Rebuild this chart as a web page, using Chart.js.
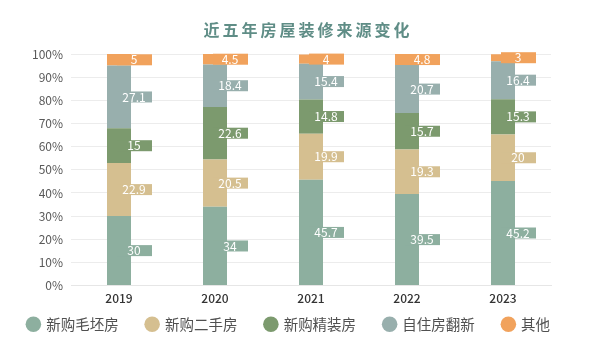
<!DOCTYPE html>
<html>
<head>
<meta charset="utf-8">
<script src="https://cdn.jsdelivr.net/npm/chart.js@4"></script>
<style>
  html, body { margin: 0; padding: 0; background: #fff; }
  #wrap { width: 600px; height: 353px; position: relative; }
</style>
</head>
<body>
<div id="wrap"><canvas id="chart"></canvas></div>
<script>
// data
const years = ["2019", "2020", "2021", "2022", "2023"];
const seriesNames = ["新购毛坯房", "新购二手房", "新购精装房", "自住房翻新", "其他"];
const maopi = [30, 34, 45.7, 39.5, 45.2];
const ershou = [22.9, 20.5, 19.9, 19.3, 20];
const jingzhuang = [15, 22.6, 14.8, 15.7, 15.3];
const fanxin = [27.1, 18.4, 15.4, 20.7, 16.4];
const other = [5, 4.5, 4, 4.8, 3];
const yTicks = [0, 10, 20, 30, 40, 50, 60, 70, 80, 90, 100];
const titleText = "近五年房屋装修来源变化";

const colors = ["#8daf9f", "#d5bf90", "#7c9a6e", "#98afad", "#f1a25c"];
const values = [maopi, ershou, jingzhuang, fanxin, other];

const FONT = '"Noto Sans CJK SC", "Noto Sans", sans-serif';

// title drawn by hand so it can get letter spacing
const titlePlugin = {
  id: "spacedTitle",
  afterDraw(chart) {
    const ctx = chart.ctx;
    ctx.save();
    ctx.font = "bold 16px " + FONT;
    ctx.fillStyle = "#5f8d86";
    ctx.textAlign = "center";
    ctx.textBaseline = "middle";
    ctx.letterSpacing = "3px";
    ctx.fillText(titleText, 308, 30);
    ctx.restore();
  }
};

// legend: short box, drawn a little higher and a bit to the left
const legendTweak = {
  id: "legendTweak",
  beforeInit(chart) {
    const lg = chart.legend;
    if (!lg) return;
    const fit = lg.fit.bind(lg);
    lg.fit = function () { fit(); this.height = 40; };
    const draw = lg.draw.bind(lg);
    lg.draw = function () {
      const b = { top: this.top, bottom: this.bottom, left: this.left, right: this.right };
      this.top -= 23; this.bottom += 20;
      this.left -= 11; this.right -= 11;
      draw();
      Object.assign(this, b);
    };
  }
};

// value boxes sitting to the right of each segment
const boxLabels = {
  id: "boxLabels",
  afterDatasetsDraw(chart) {
    const ctx = chart.ctx;
    ctx.save();
    ctx.font = "12px " + FONT;
    ctx.textAlign = "center";
    ctx.textBaseline = "middle";
    chart.data.datasets.forEach((ds, i) => {
      const meta = chart.getDatasetMeta(i);
      meta.data.forEach((bar, j) => {
        const v = ds.data[j];
        let cy = (bar.y + bar.base) / 2;
        const top = chart.chartArea.top;
        if (cy - 5 < top - 6) cy = top;
        const x0 = bar.x - 2;
        ctx.fillStyle = ds.backgroundColor;
        ctx.fillRect(x0, cy - 5.5, 35, 11);
        ctx.fillStyle = "#ffffff";
        ctx.fillText(String(v), x0 + 17, cy);
      });
    });
    ctx.restore();
  }
};

new Chart(document.getElementById("chart"), {
  type: "bar",
  data: {
    labels: years,
    datasets: seriesNames.map((name, i) => ({
      label: name,
      data: values[i],
      backgroundColor: colors[i],
      borderWidth: 0,
      barPercentage: 0.5,
      categoryPercentage: 0.5,
    })),
  },
  options: {
    responsive: true,
    maintainAspectRatio: false,
    animation: false,
    layout: { padding: { top: 54, left: 0, right: 0, bottom: 1 } },
    plugins: {
      title: { display: false },
      tooltip: { enabled: false },
      legend: {
        position: "bottom",
        labels: {
          usePointStyle: true,
          pointStyle: "circle",
          boxWidth: 11,
          boxHeight: 11,
          padding: 28,
          color: "#505050",
          font: { family: FONT, size: 14.5 },
        },
      },
    },
    scales: {
      x: {
        stacked: true,
        grid: { display: false, drawTicks: false },
        border: { color: "#e6e6e6" },
        ticks: { color: "#333333", font: { family: FONT, size: 12, weight: 500 }, padding: 6 },
      },
      y: {
        stacked: true,
        min: 0,
        max: 100,
        afterFit: (axis) => { axis.width = 71; },
        afterBuildTicks: (axis) => { axis.ticks = yTicks.map((v) => ({ value: v })); },
        grid: { color: "#ececec", lineWidth: 1, drawTicks: false },
        border: { display: false },
        ticks: {
          autoSkip: false,
          color: "#595959",
          font: { family: FONT, size: 12 },
          padding: 8,
          callback: (v) => v + "%",
        },
      },
      // empty right-hand axis, only there to keep the plot off the right edge
      yRight: {
        position: "right",
        min: 0,
        max: 100,
        afterFit: (axis) => { axis.width = 49; },
        grid: { display: false, drawTicks: false },
        border: { display: false },
        ticks: { display: false },
      },
    },
  },
  plugins: [titlePlugin, legendTweak, boxLabels],
});
</script>
</body>
</html>
